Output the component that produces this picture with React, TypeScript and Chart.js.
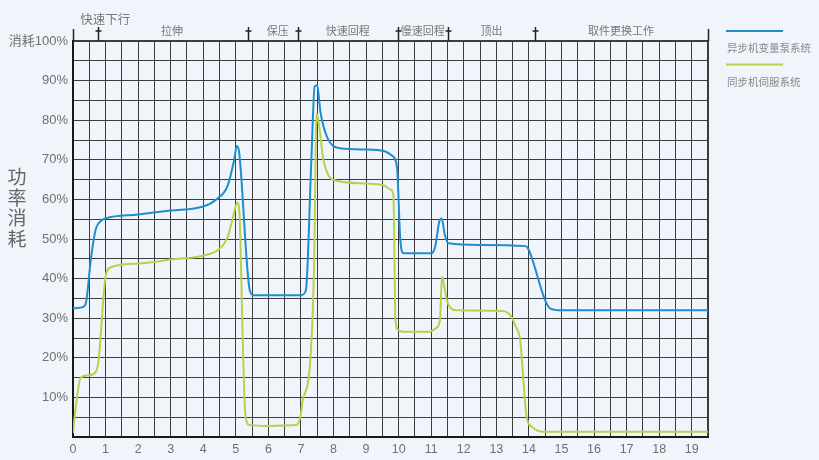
import React, { useEffect, useRef } from 'react';
import { Chart, registerables } from 'chart.js';

Chart.register(...registerables);

// 异步机变量泵系统
const pumpTime = [0, 0.3, 0.4, 0.55, 0.7, 0.85, 1.0, 2.0, 3.0, 4.0, 4.4, 4.75, 4.95, 5.03, 5.1, 5.43, 5.55, 6.0, 7.0, 7.15, 7.32, 7.42, 7.5, 7.6, 7.8, 8.2, 9.0, 9.55, 9.8, 9.95, 10.05, 10.15, 11.0, 11.12, 11.25, 11.32, 11.42, 11.53, 12.5, 13.9, 14.0, 14.5, 14.65, 15.0, 19.5];
const pumpPower = [32.5, 32.8, 34, 45, 52.5, 54.5, 55.2, 56.2, 57.2, 58.2, 60, 63.5, 70, 73.5, 72, 37, 35.8, 35.8, 35.8, 37, 70, 88.5, 88.8, 82, 75.8, 72.9, 72.6, 72.2, 71, 68, 50, 46.4, 46.4, 48, 54.5, 55.2, 51, 48.9, 48.5, 48.2, 47.2, 34.5, 32.5, 32.0, 32.0];

// 同步机伺服系统
const servoTime = [0, 0.05, 0.24, 0.5, 0.7, 0.78, 1.0, 1.15, 2.0, 3.0, 4.1, 4.5, 4.75, 4.9, 5.05, 5.12, 5.22, 5.3, 5.42, 6.0, 6.85, 6.98, 7.05, 7.28, 7.4, 7.48, 7.55, 7.69, 7.85, 8.0, 9.0, 9.53, 9.75, 9.84, 9.88, 9.9, 10.0, 10.1, 10.96, 11.15, 11.27, 11.33, 11.4, 11.5, 11.6, 11.78, 13.2, 13.45, 13.6, 13.73, 13.93, 14.1, 14.45, 19.5];
const servoPower = [1, 5, 15, 15.6, 16.5, 19, 40.5, 42.8, 43.8, 44.8, 46, 47.5, 50.5, 55, 59.2, 55, 22, 5, 3, 2.8, 3, 5, 9, 18.6, 42, 81.7, 79, 70, 66, 64.9, 64, 63.6, 62.5, 61, 40, 29.5, 27, 26.6, 26.6, 27.5, 29.5, 40.5, 38, 34, 32.5, 32, 31.8, 30.5, 27.8, 24.5, 5.1, 2.5, 1.3, 1.3];

const seriesNames = ['异步机变量泵系统', '同步机伺服系统'];
const seriesColors = ['#1f8dcf', '#b7d14b'];

const phaseNames = ['快速下行', '拉伸', '保压', '快速回程', '慢速回程', '顶出', '取件更换工作'];
const phaseCenters = [0.99, 3.04, 6.29, 8.44, 10.74, 12.85, 16.83];
const phaseMarks = [0.78, 5.38, 6.91, 9.98, 11.51, 14.2];

const yTitle = ['功', '率', '消', '耗'];

const CJK = '"Noto Sans CJK SC", "Noto Sans", sans-serif';

const decorPlugin = {
  id: 'decor',
  afterDraw(chart) {
    const { ctx, chartArea, scales } = chart;
    const x = scales.x;
    const top = chartArea.top;
    ctx.save();

    // phase boundary markers
    ctx.strokeStyle = '#222';
    ctx.lineWidth = 1.5;
    phaseMarks.forEach(v => {
      const px = Math.round(x.getPixelForValue(v)) + 0.5;
      ctx.beginPath();
      ctx.moveTo(px, top - 14);
      ctx.lineTo(px, top);
      ctx.moveTo(px - 3, top - 10);
      ctx.lineTo(px + 3, top - 10);
      ctx.stroke();
    });
    [x.min, x.max].forEach(v => {
      const px = Math.round(x.getPixelForValue(v)) + 0.5;
      ctx.beginPath();
      ctx.moveTo(px, top - 12);
      ctx.lineTo(px, top);
      ctx.stroke();
    });

    // phase names
    ctx.fillStyle = '#777';
    ctx.textAlign = 'center';
    ctx.textBaseline = 'middle';
    phaseNames.forEach((n, i) => {
      ctx.font = (i === 0 ? '12.5px ' : '11px ') + CJK;
      ctx.fillText(n, x.getPixelForValue(phaseCenters[i]), i === 0 ? top - 22 : top - 10);
    });

    // vertical y title
    ctx.font = '19px ' + CJK;
    ctx.fillStyle = '#666';
    yTitle.forEach((c, i) => ctx.fillText(c, 17, 177 + i * 20.5));

    // legend
    const lx = chartArea.right + 18;
    chart.data.datasets.forEach((ds, i) => {
      const ly = top - 10 + i * 33.5;
      ctx.strokeStyle = ds.borderColor;
      ctx.lineWidth = 2;
      ctx.beginPath();
      ctx.moveTo(lx, ly);
      ctx.lineTo(lx + 57, ly);
      ctx.stroke();
      ctx.fillStyle = '#888';
      ctx.textAlign = 'left';
      ctx.font = '10.5px ' + CJK;
      ctx.fillText(ds.label, lx + 1, ly + 17.5);
    });

    ctx.restore();
  }
};

export default function App() {
  const chartRef = useRef(null);
  const chartInstanceRef = useRef(null);

  useEffect(() => {
    const ctx = chartRef.current.getContext('2d');

    if (chartInstanceRef.current) {
      chartInstanceRef.current.destroy();
    }

    const gridColor = '#3d3d3d';

    chartInstanceRef.current = new Chart(ctx, {
      type: 'line',
      data: {
        datasets: [
          {
            label: seriesNames[0],
            data: pumpTime.map((t, i) => ({ x: t, y: pumpPower[i] })),
            borderColor: seriesColors[0],
            borderWidth: 2,
            pointRadius: 0,
            cubicInterpolationMode: 'monotone',
          },
          {
            label: seriesNames[1],
            data: servoTime.map((t, i) => ({ x: t, y: servoPower[i] })),
            borderColor: seriesColors[1],
            borderWidth: 2,
            pointRadius: 0,
            cubicInterpolationMode: 'monotone',
          },
        ],
      },
      options: {
        responsive: true,
        maintainAspectRatio: false,
        animation: false,
        layout: {
          padding: { left: 0, top: 41, right: 111, bottom: 0 },
        },
        scales: {
          x: {
            type: 'linear',
            min: 0,
            max: 19.5,
            afterFit: (s) => { s.height = 23; },
            border: { display: true, color: '#1a1a1a', width: 2 },
            grid: {
              color: gridColor,
              lineWidth: (c) => (c.tick && c.tick.value === 19.5 ? 2 : 1),
              drawTicks: false,
            },
            ticks: {
              stepSize: 0.5,
              autoSkip: false,
              maxRotation: 0,
              padding: 5,
              color: '#707070',
              font: { family: '"Liberation Sans", Arial, sans-serif', size: 12.5 },
              callback: (v) => (Number.isInteger(v) && v < 19.5 ? String(v) : ''),
            },
          },
          y: {
            min: 0,
            max: 100,
            afterFit: (s) => { s.width = 73; },
            border: { display: true, color: '#1a1a1a', width: 2 },
            grid: {
              color: gridColor,
              lineWidth: (c) => (c.tick && c.tick.value === 100 ? 2 : 1),
              drawTicks: false,
            },
            ticks: {
              stepSize: 5,
              autoSkip: false,
              padding: 5,
              color: '#707070',
              font: { family: '"Liberation Sans", "Noto Sans CJK SC", sans-serif', size: 13 },
              callback: (v) => {
                if (v === 100) return '消耗100%';
                if (v === 0 || v % 10 !== 0) return '';
                return v + '%';
              },
            },
          },
        },
        plugins: {
          legend: { display: false },
          tooltip: { enabled: false },
        },
      },
      plugins: [decorPlugin],
    });

    return () => {
      if (chartInstanceRef.current) {
        chartInstanceRef.current.destroy();
        chartInstanceRef.current = null;
      }
    };
  }, []);

  return (
    <div style={{ position: 'fixed', left: 0, top: 0, width: 819, height: 460, background: '#eff5fb' }}>
      <canvas ref={chartRef} />
    </div>
  );
}
